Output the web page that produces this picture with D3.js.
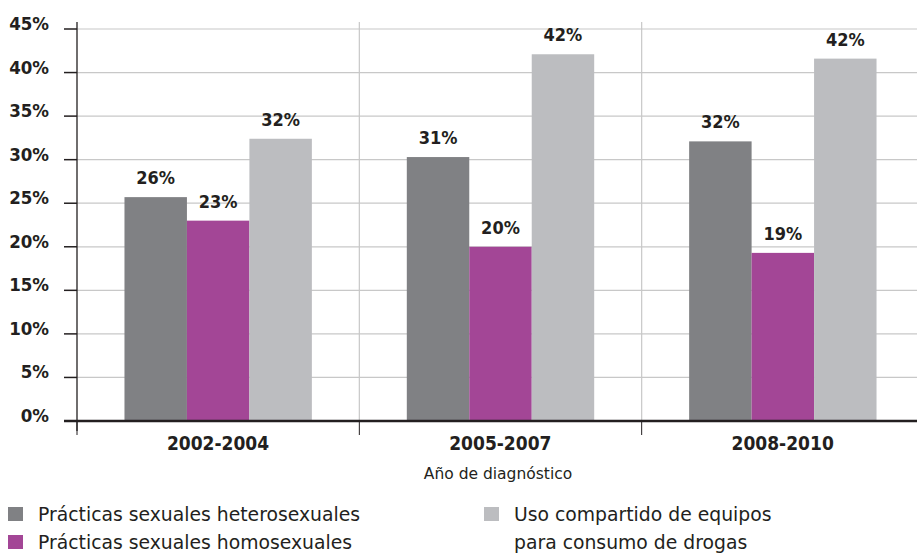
<!DOCTYPE html>
<html><head><meta charset="utf-8">
<script src="https://cdn.jsdelivr.net/npm/d3@7"></script>
<style>
body{margin:0;background:#fff;}
text{fill:#231f20;}
.b{font-family:"DejaVu Sans Condensed","DejaVu Sans",sans-serif;font-stretch:condensed;font-weight:bold;}
.r{font-family:"DejaVu Sans",sans-serif;}
</style></head><body>
<svg id="c" width="917" height="556"></svg>
<script>
const categories = ["2002-2004","2005-2007","2008-2010"];
const seriesNames = ["Prácticas sexuales heterosexuales","Prácticas sexuales homosexuales","Uso compartido de equipos para consumo de drogas"];
const hetero = [25.7, 30.3, 32.1];
const homo = [23.0, 20.0, 19.3];
const drogas = [32.4, 42.1, 41.6];
const heteroLabels = ["26%","31%","32%"];
const homoLabels = ["23%","20%","19%"];
const drogasLabels = ["32%","42%","42%"];
const yTicks = [0,5,10,15,20,25,30,35,40,45];
const colors = ["#808184","#a34696","#bcbdc0"];

const series = [
  {name: seriesNames[0], values: hetero, labels: heteroLabels},
  {name: seriesNames[1], values: homo, labels: homoLabels},
  {name: seriesNames[2], values: drogas, labels: drogasLabels}
];

const svg = d3.select("#c");
const pL = 77, pR = 924, pT = 29, pB = 421;
const x0 = d3.scaleBand().domain(categories).range([pL, pR]).paddingInner(0).paddingOuter(0);
const x1 = d3.scaleBand().domain(d3.range(3)).range([0, x0.bandwidth()]).paddingOuter(0.76).paddingInner(0);
const y = d3.scaleLinear().domain([0,45]).range([pB, pT]);

// grid
svg.append("g").selectAll("line").data(yTicks.filter(t=>t>0)).join("line")
  .attr("x1", pL).attr("x2", 917).attr("y1", d=>y(d)).attr("y2", d=>y(d))
  .attr("stroke", "#c8c8c8").attr("stroke-width", 1.2);
svg.append("g").selectAll("line").data(categories.slice(1)).join("line")
  .attr("x1", d=>x0(d)).attr("x2", d=>x0(d)).attr("y1", 22).attr("y2", pB)
  .attr("stroke", "#c8c8c8").attr("stroke-width", 1.2);

// bars
const g = svg.append("g");
series.forEach((s, i) => {
  g.selectAll(null).data(categories).join("rect")
    .attr("x", d => x0(d) + x1(i))
    .attr("width", x1.bandwidth())
    .attr("y", (d, j) => y(s.values[j]))
    .attr("height", (d, j) => pB - y(s.values[j]))
    .attr("fill", colors[i]);
  g.selectAll(null).data(categories).join("text")
    .attr("class", "b")
    .attr("x", d => x0(d) + x1(i) + x1.bandwidth()/2)
    .attr("y", (d, j) => y(s.values[j]) - 13)
    .attr("text-anchor", "middle")
    .attr("font-size", 18)
    .text((d, j) => s.labels[j]);
});

// y axis
svg.append("line").attr("x1", pL).attr("x2", pL).attr("y1", 22).attr("y2", 431)
  .attr("stroke", "#231f20").attr("stroke-width", 1.3);
svg.append("g").selectAll("line").data(yTicks).join("line")
  .attr("x1", 64).attr("x2", pL).attr("y1", d=>y(d)).attr("y2", d=>y(d))
  .attr("stroke", "#231f20").attr("stroke-width", 1.5);
svg.append("g").selectAll("text").data(yTicks).join("text")
  .attr("class", "b")
  .attr("x", 49).attr("y", d => y(d) + 1)
  .attr("text-anchor", "end").attr("font-size", 18.5)
  .text(d => d + "%");

// x axis
svg.append("line").attr("x1", 64).attr("x2", 917).attr("y1", pB).attr("y2", pB)
  .attr("stroke", "#231f20").attr("stroke-width", 2.5);
svg.append("g").selectAll("line").data(categories).join("line")
  .attr("x1", d=>x0(d)).attr("x2", d=>x0(d)).attr("y1", pB).attr("y2", 435)
  .attr("stroke", "#231f20").attr("stroke-width", 1);
svg.append("g").selectAll("text").data(categories).join("text")
  .attr("class", "b")
  .attr("x", d => x0(d) + 141).attr("y", 450)
  .attr("text-anchor", "middle").attr("font-size", 19)
  .text(d => d);
svg.append("text").attr("class", "r").attr("x", 498).attr("y", 479).attr("text-anchor", "middle")
  .attr("font-size", 15.5).text("Año de diagnóstico");

// legend
const leg = [
  {x: 8, y: 507, c: colors[0], lines: [seriesNames[0]]},
  {x: 8, y: 535, c: colors[1], lines: [seriesNames[1]]},
  {x: 484, y: 507, c: colors[2], lines: ["Uso compartido de equipos", "para consumo de drogas"]}
];
leg.forEach(l => {
  svg.append("rect").attr("x", l.x).attr("y", l.y).attr("width", 15).attr("height", 14).attr("fill", l.c);
  l.lines.forEach((t, k) => {
    svg.append("text").attr("class", "r").attr("x", l.x + 30).attr("y", l.y + 14 + k*28)
      .attr("font-size", 18.8).text(t);
  });
});
</script>
</body></html>
